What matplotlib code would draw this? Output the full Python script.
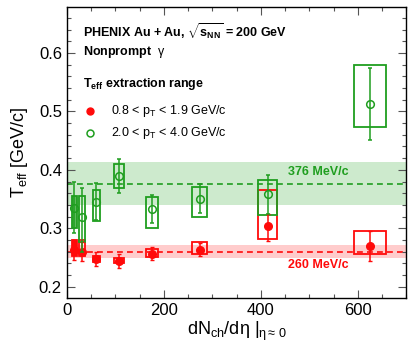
import numpy as np
import matplotlib
matplotlib.use('Agg')
import matplotlib.pyplot as plt
from matplotlib.patches import Rectangle
from matplotlib.ticker import MultipleLocator

plt.rcParams['font.family'] = ['Liberation Sans', 'DejaVu Sans']
plt.rcParams['mathtext.fontset'] = 'custom'
plt.rcParams['mathtext.rm'] = 'Liberation Sans'
plt.rcParams['mathtext.it'] = 'Liberation Sans:italic'
plt.rcParams['mathtext.bf'] = 'Liberation Sans:bold'

# Data (dN/deta, T_eff in GeV/c)
dndeta = [15, 31, 61, 108, 176, 273.5, 413.6, 624]
box_halfw = [5, 5.5, 7.5, 10, 12, 15, 20, 33]

# green: 2.0 < pT < 4.0
t_hi = [0.335, 0.319, 0.345, 0.390, 0.333, 0.350, 0.358, 0.513]
t_hi_up = [0.045, 0.050, 0.032, 0.028, 0.024, 0.026, 0.033, 0.061]
t_hi_dn = [0.044, 0.060, 0.031, 0.030, 0.024, 0.024, 0.033, 0.062]
sys_hi_lo = [0.300, 0.277, 0.313, 0.369, 0.300, 0.320, 0.323, 0.474]
sys_hi_hi = [0.356, 0.356, 0.365, 0.410, 0.353, 0.370, 0.382, 0.579]

# red: 0.8 < pT < 1.9
t_lo = [0.263, 0.260, 0.247, 0.244, 0.256, 0.263, 0.303, 0.269]
t_lo_up = [0.017, 0.017, 0.012, 0.012, 0.011, 0.011, 0.021, 0.026]
t_lo_dn = [0.017, 0.017, 0.012, 0.012, 0.011, 0.011, 0.025, 0.026]
sys_lo_lo = [0.252, 0.252, 0.242, 0.240, 0.250, 0.255, 0.281, 0.256]
sys_lo_hi = [0.279, 0.280, 0.252, 0.249, 0.265, 0.277, 0.365, 0.295]

# averages (value, band low, band high)
avg_hi = [0.376, 0.339, 0.413]
avg_lo = [0.260, 0.249, 0.271]

GREEN = '#1f9e1f'
RED = '#ff0a0a'

fig = plt.figure(figsize=(4.15, 3.51), dpi=100)
ax = fig.add_axes([0.161, 0.152, 0.8185, 0.828])

ax.axhspan(avg_hi[1], avg_hi[2], color='#cdeacd', lw=0, zorder=0)
ax.axhspan(avg_lo[1], avg_lo[2], color='#ffcccc', lw=0, zorder=0)
ax.axhline(avg_hi[0], color=GREEN, ls=(0, (3.5, 2.5)), lw=1.2, zorder=1)
ax.axhline(avg_lo[0], color=RED, ls=(0, (3.5, 2.5)), lw=1.2, zorder=1)

# the narrowest boxes render almost solid in the original
for i, (x, w, lo, hi) in enumerate(zip(dndeta, box_halfw, sys_lo_lo, sys_lo_hi)):
    ax.add_patch(Rectangle((x - w, lo), 2 * w, hi - lo,
                           fc=RED if i == 0 else 'none', alpha=None,
                           ec=RED, lw=1.3, zorder=2))
for i, (x, w, lo, hi) in enumerate(zip(dndeta, box_halfw, sys_hi_lo, sys_hi_hi)):
    ax.add_patch(Rectangle((x - w, lo), 2 * w, hi - lo,
                           fc='#5cb85c' if i == 0 else 'none',
                           ec=GREEN, lw=1.3, zorder=3))

ax.errorbar(dndeta, t_lo, yerr=[t_lo_dn, t_lo_up], fmt='o', color=RED,
            ms=5.5, elinewidth=1.1, capsize=1.5, zorder=4)
ax.errorbar(dndeta, t_hi, yerr=[t_hi_dn, t_hi_up], fmt='o', color=GREEN,
            mfc='none', ms=5.5, mew=1.1, elinewidth=1.1, capsize=1.5, zorder=5)

ax.set_xlim(0, 700)
ax.set_ylim(0.181, 0.679)
ax.xaxis.set_major_locator(MultipleLocator(200))
ax.xaxis.set_minor_locator(MultipleLocator(50))
ax.yaxis.set_major_locator(MultipleLocator(0.1))
ax.yaxis.set_minor_locator(MultipleLocator(0.02))
ax.tick_params(which='both', direction='in', top=True, right=True,
               labelsize=12, width=0.8, color='#555555')
ax.tick_params(which='major', length=6)
ax.tick_params(which='minor', length=3)
ax.xaxis.set_major_formatter(plt.FuncFormatter(lambda v, p: f'{v:.0f}'))
ax.yaxis.set_major_formatter(plt.FuncFormatter(lambda v, p: f'{v:.1f}'))
for s in ax.spines.values():
    s.set_linewidth(1.0)

ax.set_xlabel(r'dN$_{\mathrm{ch}}$/d$\mathrm{\eta}$ $|_{\mathrm{\eta}\approx\,0}$',
              fontsize=13, labelpad=2)
ax.set_ylabel(r'T$_{\mathrm{eff}}$ [GeV/c]', fontsize=13, labelpad=6)

ax.text(0.048, 0.914, r'PHENIX Au + Au, $\sqrt{\mathbf{s}_{\mathbf{NN}}}$ = 200 GeV',
        transform=ax.transAxes, fontsize=9, fontweight='bold', va='center')
ax.text(0.048, 0.844, r'Nonprompt  $\mathrm{\gamma}$', transform=ax.transAxes,
        fontsize=9, fontweight='bold', va='center')
ax.text(0.048, 0.735, r'T$_{\mathbf{eff}}$ extraction range', transform=ax.transAxes,
        fontsize=9, fontweight='bold', va='center')

ax.plot([0.069], [0.642], 'o', color=RED, ms=5, transform=ax.transAxes)
ax.plot([0.069], [0.567], 'o', color=GREEN, mfc='none', ms=5, mew=1.1,
        transform=ax.transAxes)
ax.text(0.13, 0.642, r'0.8 < p$_{\mathrm{T}}$ < 1.9 GeV/c', transform=ax.transAxes,
        fontsize=9, va='center')
ax.text(0.13, 0.567, r'2.0 < p$_{\mathrm{T}}$ < 4.0 GeV/c', transform=ax.transAxes,
        fontsize=9, va='center')

ax.text(456, 0.397, '%d MeV/c' % round(avg_hi[0] * 1000), color=GREEN,
        fontsize=9, fontweight='bold', va='center')
ax.text(456, 0.237, '%d MeV/c' % round(avg_lo[0] * 1000), color=RED,
        fontsize=9, fontweight='bold', va='center')

fig.savefig('out.png', dpi=100)
